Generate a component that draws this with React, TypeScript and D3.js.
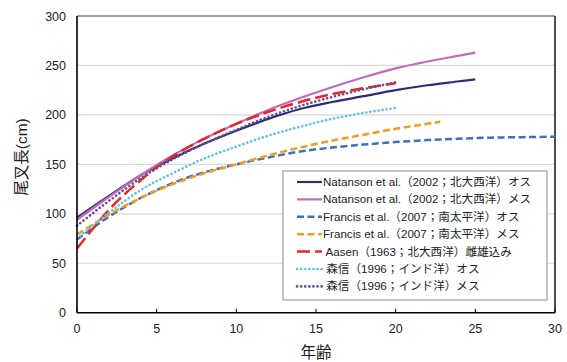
import React from "react";
import * as d3 from "d3";

const natansonMaleAge = [0, 2, 4, 6, 8, 10, 12, 14, 16, 18, 20, 22, 24, 25];
const natansonMale = [96, 118, 139, 156, 171, 184, 196, 206, 213, 219, 225, 230, 234, 236];

const natansonFemaleAge = [0, 2, 4, 6, 8, 10, 12, 14, 16, 18, 20, 22, 24, 25];
const natansonFemale = [94, 117, 139, 159, 176, 191, 205, 217, 228, 238, 247, 254, 260, 263];

const francisMaleAge = [0, 2, 4, 6, 8, 10, 12, 14, 16, 18, 20, 22, 24, 26, 28, 30];
const francisMale = [74, 97, 116, 131, 142, 150, 157, 163, 167, 170, 172.5, 174.5, 176, 177, 177.5, 178];

const francisFemaleAge = [0, 2, 4, 6, 8, 10, 12, 14, 16, 18, 20, 22, 22.8];
const francisFemale = [79, 99, 116, 130, 141, 150, 159, 167, 174, 180, 186, 191, 193];

const aasenAge = [0, 1, 2, 3, 4, 5, 6, 8, 10, 12, 14, 16, 18, 20];
const aasen = [65, 85, 104, 120, 134, 147, 158, 176, 191, 203, 213, 221, 227, 232];

const moriMaleAge = [0, 2, 4, 6, 8, 10, 12, 14, 16, 18, 20];
const moriMale = [75, 101, 124, 141, 156, 168, 179, 188, 196, 202, 207];

const moriFemaleAge = [0, 2, 4, 6, 8, 10, 12, 14, 16, 18, 20];
const moriFemale = [88, 113, 136, 155, 171, 185, 198, 209, 218, 226, 233];

const xTicks = [0, 5, 10, 15, 20, 25, 30];
const yTicks = [0, 50, 100, 150, 200, 250, 300];

const seriesLabels = [
  "Natanson et al.（2002；北大西洋）オス",
  "Natanson et al.（2002；北大西洋）メス",
  "Francis et al.（2007；南太平洋）オス",
  "Francis et al.（2007；南太平洋）メス",
  " Aasen（1963；北大西洋）雌雄込み",
  " 森信（1996；インド洋）オス",
  " 森信（1996；インド洋）メス",
];

const series = [
  { ages: natansonMaleAge, values: natansonMale, color: "#2b2d7c", dash: "", width: 2.2, cap: "butt" },
  { ages: natansonFemaleAge, values: natansonFemale, color: "#c36bb8", dash: "", width: 2.2, cap: "butt" },
  { ages: francisMaleAge, values: francisMale, color: "#3e6fbf", dash: "7,3.5", width: 2.5, cap: "butt" },
  { ages: francisFemaleAge, values: francisFemale, color: "#f79b1f", dash: "7,3.5", width: 2.5, cap: "butt" },
  { ages: aasenAge, values: aasen, color: "#e5262b", dash: "13,5", width: 2.5, cap: "butt" },
  { ages: moriMaleAge, values: moriMale, color: "#5ec3dc", dash: "0.1,4", width: 2.6, cap: "round" },
  { ages: moriFemaleAge, values: moriFemale, color: "#6b4d8c", dash: "0.1,4", width: 2.6, cap: "round" },
];

const FONT = "'Liberation Sans', Arial, 'Noto Sans CJK JP', sans-serif";

export default function App() {
  const W = 567;
  const H = 362;
  const left = 77;
  const right = 555;
  const top = 16;
  const bottom = 312.7;

  const x = d3.scaleLinear().domain([0, 30]).range([left, right]);
  const y = d3.scaleLinear().domain([0, 300]).range([bottom, top]);

  const lineGen = (ages: number[], vals: number[]) =>
    d3
      .line<number>()
      .x((_, i) => x(ages[i]))
      .y((v) => y(v))
      .curve(d3.curveMonotoneX)(vals) || "";

  const legX = 283;
  const legY = 171;
  const legW = 264;
  const legH = 129;
  const rowH = 17.4;

  return (
    <svg width={W} height={H} style={{ position: "absolute", left: 0, top: 0 }} fontFamily={FONT}>
      <rect x={0} y={0} width={W} height={H} fill="#fff" />
      {yTicks.slice(1).map((t) => (
        <line key={"g" + t} x1={left} x2={right} y1={y(t)} y2={y(t)} stroke="#d9d9d9" strokeWidth={1.2} />
      ))}
      <line x1={left} x2={right} y1={top} y2={top} stroke="#555" strokeWidth={1} />
      <line x1={right} x2={right} y1={top} y2={bottom} stroke="#222" strokeWidth={1.6} />

      {series.map((s, i) => (
        <path
          key={"s" + i}
          d={lineGen(s.ages, s.values)}
          fill="none"
          stroke={s.color}
          strokeWidth={s.width}
          strokeDasharray={s.dash || undefined}
          strokeLinecap={s.cap as any}
        />
      ))}

      <line x1={left} x2={left} y1={top} y2={bottom} stroke="#000" strokeWidth={1.6} />
      <line x1={left} x2={right} y1={bottom} y2={bottom} stroke="#000" strokeWidth={1.6} />
      {xTicks.map((t) => (
        <g key={"xt" + t}>
          <line x1={x(t)} x2={x(t)} y1={bottom} y2={bottom - 4} stroke="#000" strokeWidth={1} />
          <text x={x(t)} y={bottom + 20} fontSize={12.5} textAnchor="middle" fill="#222">
            {t}
          </text>
        </g>
      ))}
      {yTicks.map((t) => (
        <text key={"yt" + t} x={66} y={y(t) + 4.5} fontSize={12.5} textAnchor="end" fill="#222">
          {t}
        </text>
      ))}
      <text x={316} y={358} fontSize={15.5} textAnchor="middle" fill="#222">
        年齢
      </text>
      <text
        transform={`translate(27,${157}) rotate(-90)`}
        fontSize={15.5}
        textAnchor="middle"
        fill="#222"
      >
        尾叉長(cm)
      </text>

      <rect x={legX} y={legY} width={legW} height={legH} fill="#fff" stroke="#8c8c8c" strokeWidth={1} />
      {series.map((s, i) => {
        const cy = legY + 11 + i * rowH;
        return (
          <g key={"l" + i}>
            <line
              x1={297}
              x2={322}
              y1={cy}
              y2={cy}
              stroke={s.color}
              strokeWidth={s.width}
              strokeDasharray={s.dash || undefined}
              strokeLinecap={s.cap as any}
            />
            <text x={323} y={cy + 4} fontSize={11.6} fill="#222" style={{ whiteSpace: "pre" }}>
              {seriesLabels[i]}
            </text>
          </g>
        );
      })}
    </svg>
  );
}
